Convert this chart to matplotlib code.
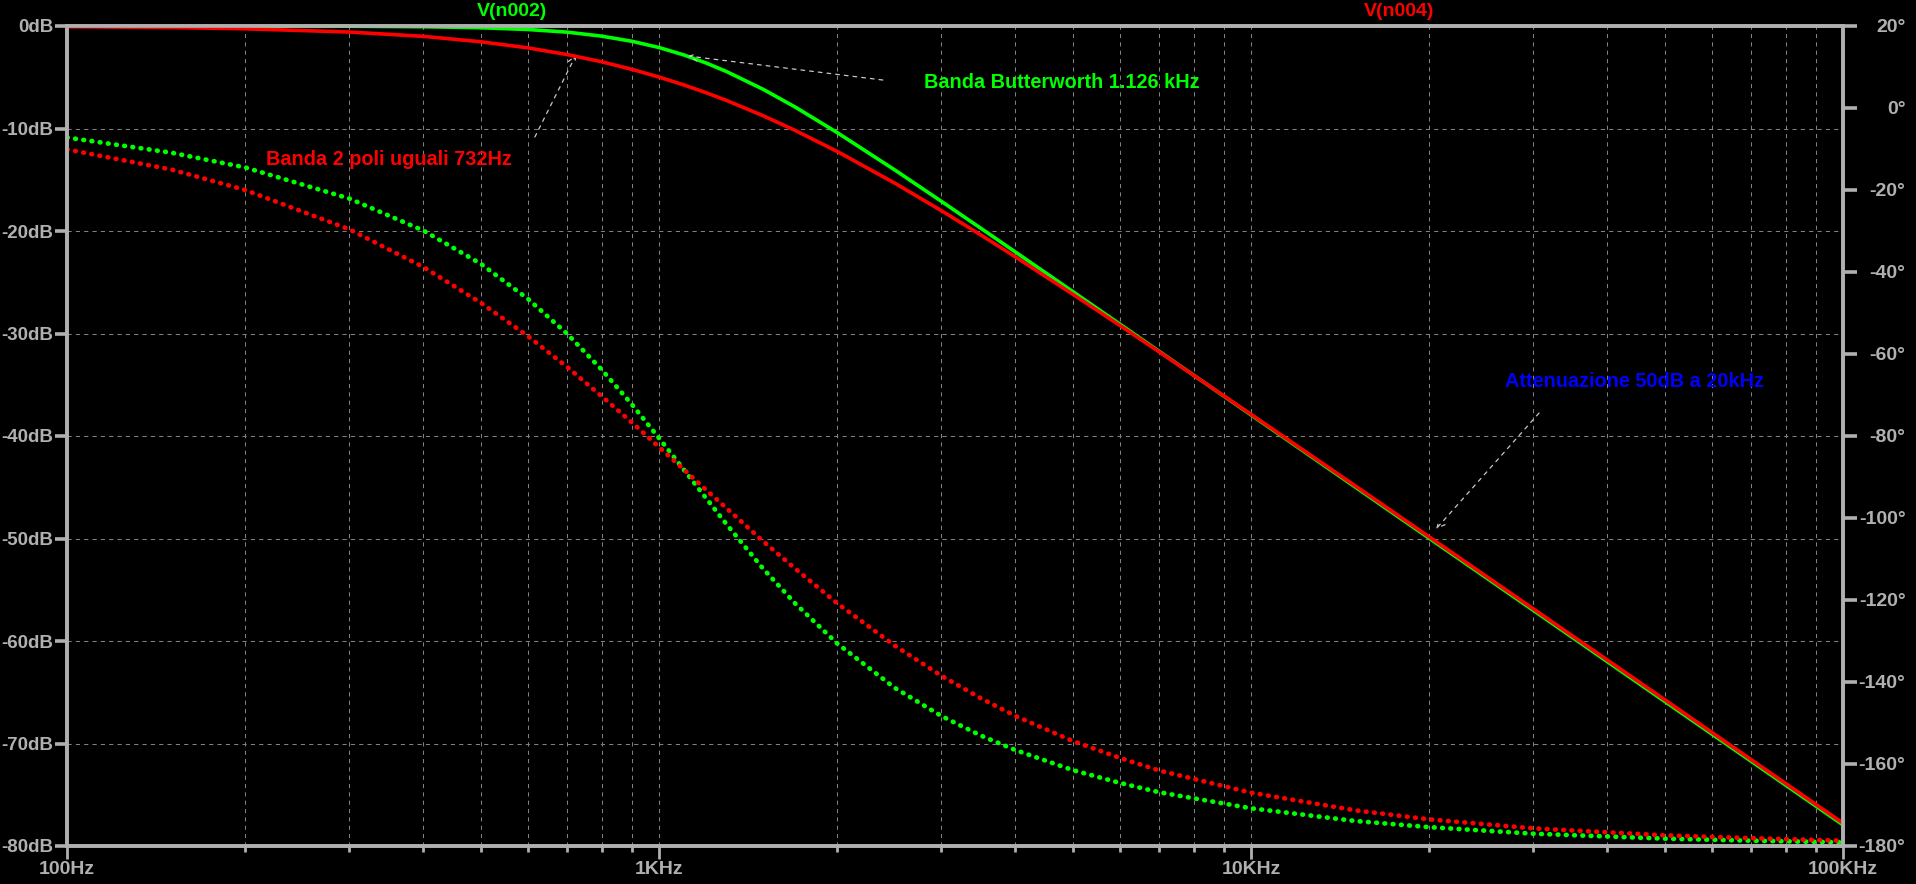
import matplotlib
matplotlib.use("Agg")
import matplotlib.pyplot as plt
import matplotlib.ticker as ticker

# frequency points (Hz)
freqs = [100, 150, 200, 300, 400, 500, 600, 700, 800, 900, 1000, 1100, 1200, 1300,
         1500, 1700, 2000, 2500, 3000, 3500, 4000, 5000, 6000, 7000, 10000, 15000,
         20000, 30000, 50000, 70000, 100000]

# V(n002) - Butterworth, magnitude (dB) and phase (deg)
g_mag = [0.0, 0.0, 0.0, -0.02, -0.07, -0.17, -0.34, -0.6, -0.99, -1.49, -2.1, -2.81, -3.6,
         -4.44, -6.18, -7.92, -10.4, -14.03, -17.11, -19.75, -22.05, -25.91, -29.07, -31.75,
         -37.94, -44.98, -49.98, -57.02, -65.9, -71.74, -77.94]
g_ph = [-7.2, -10.9, -14.5, -22.1, -29.9, -38.0, -46.5, -55.1, -63.8, -72.3, -80.5, -88.1,
        -95.1, -101.5, -112.4, -120.9, -130.6, -141.4, -148.3, -153.1, -156.6, -161.5,
        -164.6, -166.9, -170.8, -173.9, -175.4, -177.0, -178.2, -178.7, -179.1]

# V(n004) - two equal poles
r_mag = [-0.07, -0.15, -0.27, -0.59, -1.01, -1.54, -2.13, -2.79, -3.49, -4.23, -4.98, -5.74,
         -6.5, -7.26, -8.76, -10.2, -12.24, -15.32, -18.02, -20.4, -22.53, -26.17, -29.2,
         -31.8, -37.88, -44.86, -49.84, -56.87, -65.73, -71.58, -77.77]
r_ph = [-10.1, -15.0, -20.0, -29.6, -38.8, -47.5, -55.6, -63.2, -70.3, -76.7, -82.7, -88.1,
        -93.1, -97.6, -105.7, -112.4, -120.8, -131.1, -138.5, -144.0, -148.3, -154.4,
        -158.5, -161.6, -167.0, -171.3, -173.5, -175.7, -177.4, -178.1, -178.7]

x_ticks = [100, 1000, 10000, 100000]
x_labels = ["100Hz", "1KHz", "10KHz", "100KHz"]
db_ticks = [0, -10, -20, -30, -40, -50, -60, -70, -80]
deg_ticks = [20, 0, -20, -40, -60, -80, -100, -120, -140, -160, -180]

GREEN = "#00ff00"
RED = "#ff0000"
BLUE = "#0000ff"
GREY = "#b0b0b0"
GRID = "#808080"

plt.rcParams["font.family"] = ["Liberation Sans", "DejaVu Sans"]
plt.rcParams["font.weight"] = "bold"

fig = plt.figure(figsize=(19.16, 8.84), dpi=100, facecolor="black")
ax = fig.add_axes([67 / 1916, 38 / 884, 1776 / 1916, 820 / 884])
ax.set_facecolor("black")
ax2 = ax.twinx()

ax.set_xscale("log")
ax.set_xlim(100, 100000)
ax.set_ylim(-80, 0)
ax2.set_ylim(-180, 20)

# grid
ax.xaxis.set_minor_locator(ticker.LogLocator(base=10, subs=range(2, 10)))
ax.xaxis.set_minor_formatter(ticker.NullFormatter())
ax.grid(True, which="both", axis="x", color=GRID, lw=0.75, linestyle=(0, (4, 4)))
ax.grid(True, which="major", axis="y", color=GRID, lw=0.75, linestyle=(0, (4, 4)))

for a in (ax, ax2):
    for s in a.spines.values():
        s.set_color(GREY)
        s.set_linewidth(2.6)

ax.set_xticks(x_ticks)
ax.set_xticklabels(x_labels)
ax.set_yticks(db_ticks)
ax.set_yticklabels(["%ddB" % v for v in db_ticks])
ax2.set_yticks(deg_ticks)
ax2.set_yticklabels(["%d\u00b0" % v for v in deg_ticks])

ax.tick_params(axis="x", which="major", length=9, width=2, color=GREY, labelcolor=GREY,
               labelsize=14, pad=2, direction="out")
ax.tick_params(axis="x", which="minor", length=4, width=2, color=GREY, direction="out")
ax.tick_params(axis="y", length=9, width=2.6, color=GREY, labelcolor=GREY,
               labelsize=13.5, pad=1, direction="out")
ax2.tick_params(axis="y", length=10, width=2.6, color=GREY, labelcolor=GREY,
                labelsize=14, pad=35, direction="out")
for lab in ax2.get_yticklabels():
    lab.set_horizontalalignment("right")

# magnitude (solid)
ax.plot(freqs, g_mag, color=GREEN, lw=2.6, solid_capstyle="butt", zorder=3)
ax.plot(freqs, r_mag, color=RED, lw=2.6, solid_capstyle="butt", zorder=4)

# phase (dotted)
dots = (0, (0.15, 1.6))
ax2.plot(freqs, g_ph, color=GREEN, lw=3.4, linestyle=dots, dash_capstyle="round")
ax2.plot(freqs, r_ph, color=RED, lw=3.4, linestyle=dots, dash_capstyle="round")

# trace names
fig.text(512 / 1916, 1 - 12 / 884, "V(n002)", color=GREEN, fontsize=14,
         ha="center", va="center")
fig.text(1399 / 1916, 1 - 12 / 884, "V(n004)", color=RED, fontsize=14,
         ha="center", va="center")

# notes with arrows
arrow = dict(arrowstyle="->", color="#c8c8c8", lw=0.9, linestyle=(0, (3, 4)),
             shrinkA=0, shrinkB=0, mutation_scale=14)
ax.text(0.4825, 0.9305, "Banda Butterworth 1.126 kHz", transform=ax.transAxes,
        color=GREEN, fontsize=14.3, va="center", ha="left")
ax.annotate("", xy=(1120, -2.93), xytext=(2388, -5.27), arrowprops=arrow)

ax.text(0.112, 0.8378, "Banda 2 poli uguali 732Hz", transform=ax.transAxes,
        color=RED, fontsize=14.3, va="center", ha="left")
ax.annotate("", xy=(724, -2.83), xytext=(617, -10.83), arrowprops=arrow)

ax.text(0.8097, 0.5659, "Attenuazione 50dB a 20kHz", transform=ax.transAxes,
        color=BLUE, fontsize=14.3, va="center", ha="left")
ax.annotate("", xy=(20540, -49.07), xytext=(30660, -37.76), arrowprops=arrow)

fig.savefig("out.png", dpi=100, facecolor="black")
